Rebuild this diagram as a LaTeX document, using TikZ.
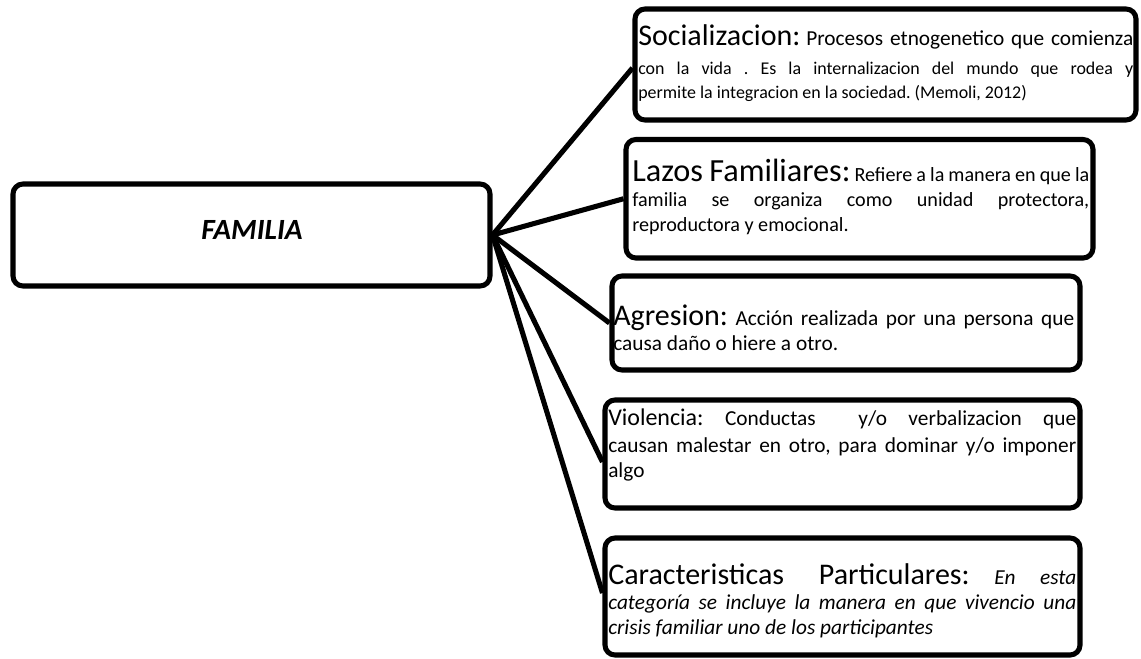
\documentclass[tikz,border=0pt]{standalone}
\usepackage{fontspec}
\setmainfont{Carlito}

% type sizes (1 unit of the picture = 0.75pt)
\newcommand\headfont{\fontsize{22.5pt}{24pt}\selectfont}
\newcommand\headfontbig{\fontsize{24.2pt}{26pt}\selectfont}
\newcommand\headfontsmall{\fontsize{18pt}{22pt}\selectfont}
\newcommand\leadfont{\fontsize{16pt}{18pt}\selectfont}
\newcommand\bodyfontsmall{\fontsize{13.45pt}{18pt}\selectfont}
\newcommand\bodyfontmid{\fontsize{15.1pt}{19.1pt}\selectfont}
\newcommand\bodyfont{\fontsize{16pt}{18.9pt}\selectfont}
\newcommand\famfont{\fontsize{22pt}{26pt}\selectfont\bfseries\itshape}
% the font's own, stretchable word spaces
\newcommand\natsp{\spaceskip=0pt\xspaceskip=0pt\relax}
% a fully justified line of a given width
\newcommand\jline[2]{\makebox[#1][s]{#2}}

\begin{document}
\frenchspacing
\begin{tikzpicture}[x=0.75pt,y=-0.75pt,
  box/.style={draw=black, line width=3.8pt, rounded corners=7.5pt,
              fill=white, inner sep=0pt},
  link/.style={draw=black, line width=3.8pt},
  txt/.style={anchor=base west, inner sep=0pt, align=left}]
\useasboundingbox (0,0) rectangle (1141,658);

% central concept
\node[box, minimum width=357.75pt, minimum height=76.5pt] (fam) at (251.5,235) {};
\node[anchor=base, inner sep=0pt, font=\famfont] (famtxt) at (252,239) {FAMILIA};

% category boxes
\node[box, minimum width=375.75pt, minimum height=83.25pt] (b1) at (885.5,64.5) {};
\node[box, minimum width=350.25pt, minimum height=88.9pt]  (b2) at (859.5,198.75) {};
\node[box, minimum width=351pt,    minimum height=70.5pt]  (b3) at (846,323) {};
\node[box, minimum width=356.25pt, minimum height=81pt]    (b4) at (842.5,454) {};
\node[box, minimum width=356.25pt, minimum height=87.75pt] (b5) at (842.5,596.5) {};

% connectors from the central concept
\draw[link] (fam.east) -- ([yshift=-2.6pt]b1.west);
\draw[link] (fam.east) -- (b2.west);
\draw[link] (fam.east) -- (b3.west);
\draw[link] (fam.east) -- ([yshift=-6pt]b4.west);
\draw[link] (fam.east) -- ([yshift=2.6pt]b5.west);

% texts of the categories
\node[txt, text width=371.25pt, font=\bodyfontsmall] (t1) at (638,45) {\natsp
\jline{371.25pt}{{\headfont Socializacion:} {\leadfont Procesos etnogenetico que comienza}}\\[4pt]
\jline{371.25pt}{con la vida . Es la internalizacion del mundo que rodea y}\\
permite la integracion en la sociedad. (Memoli, 2012)};

\node[txt, text width=342.75pt, font=\bodyfontmid] (t2) at (632,181) {\natsp
\jline{342.75pt}{{\headfontbig Lazos Familiares:} Refiere a la manera en que la}\\
\jline{342.75pt}{familia se organiza como unidad protectora,}\\
reproductora y emocional.};

\node[txt, text width=345.75pt, font=\bodyfont] (t3) at (613,325) {\natsp
\jline{345.75pt}{{\headfont Agresion:} Acción realizada por una persona que}\\
causa daño o hiere a otro.};

\node[txt, text width=351pt, font=\bodyfont] (t4) at (608,425) {\natsp
\jline{351pt}{{\headfontsmall Violencia:} Conductas \ y/o verbalizacion que}\\[1.8pt]
\jline{351pt}{causan malestar en otro, para dominar y/o imponer}\\
algo};

\node[txt, text width=351pt, font=\bodyfont] (t5) at (608,584) {\natsp
\jline{351pt}{{\headfont Caracteristicas Particulares:} \textit{En esta}}\\
\jline{351pt}{\textit{categoría se incluye la manera en que vivencio una}}\\
\textit{crisis familiar uno de los participantes}};
\end{tikzpicture}
\end{document}
